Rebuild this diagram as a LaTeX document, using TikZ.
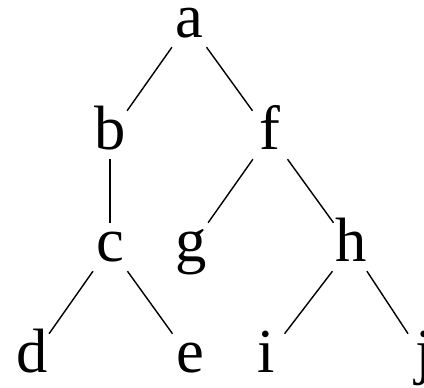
\documentclass[tikz,border=0pt]{standalone}
\usepackage{fontspec}
\setmainfont{Liberation Serif}
\usepackage{tikz}

\begin{document}
\begin{tikzpicture}[x=0.01cm, y=-0.01cm,
    letter/.style={anchor=base, inner sep=0pt, text height=0.385cm, text depth=0.085cm,
      minimum width=0.4cm, font=\fontsize{17.8}{20}\selectfont},
    branch/.style={black, line width=0.4pt}]
  \useasboundingbox (0,0) rectangle (424,388);
  \clip (0,0) rectangle (424,388);
  % levels of the tree
  \node[letter] (a) at (189,38) {a};
  \node[letter] (b) at (110,150) {b};
  \node[letter] (f) at (270,150) {f};
  \node[letter] (c) at (110,262) {c};
  \node[letter] (g) at (191,262) {g};
  \node[letter] (h) at (351,262) {h};
  \node[letter] (d) at (32,373) {d};
  \node[letter] (e) at (190,373) {e};
  \node[letter] (i) at (266,373) {i};
  \node[letter] (j) at (424,373) {j};
  % edges
  \draw[branch] (a) -- (b);
  \draw[branch] (a) -- (f);
  \draw[branch] (b) -- (c);
  \draw[branch] (f) -- (g);
  \draw[branch] (f) -- (h);
  \draw[branch] (c) -- (d);
  \draw[branch] (c) -- (e);
  \draw[branch] (h) -- (i);
  \draw[branch] (h) -- (j);
\end{tikzpicture}
\end{document}
